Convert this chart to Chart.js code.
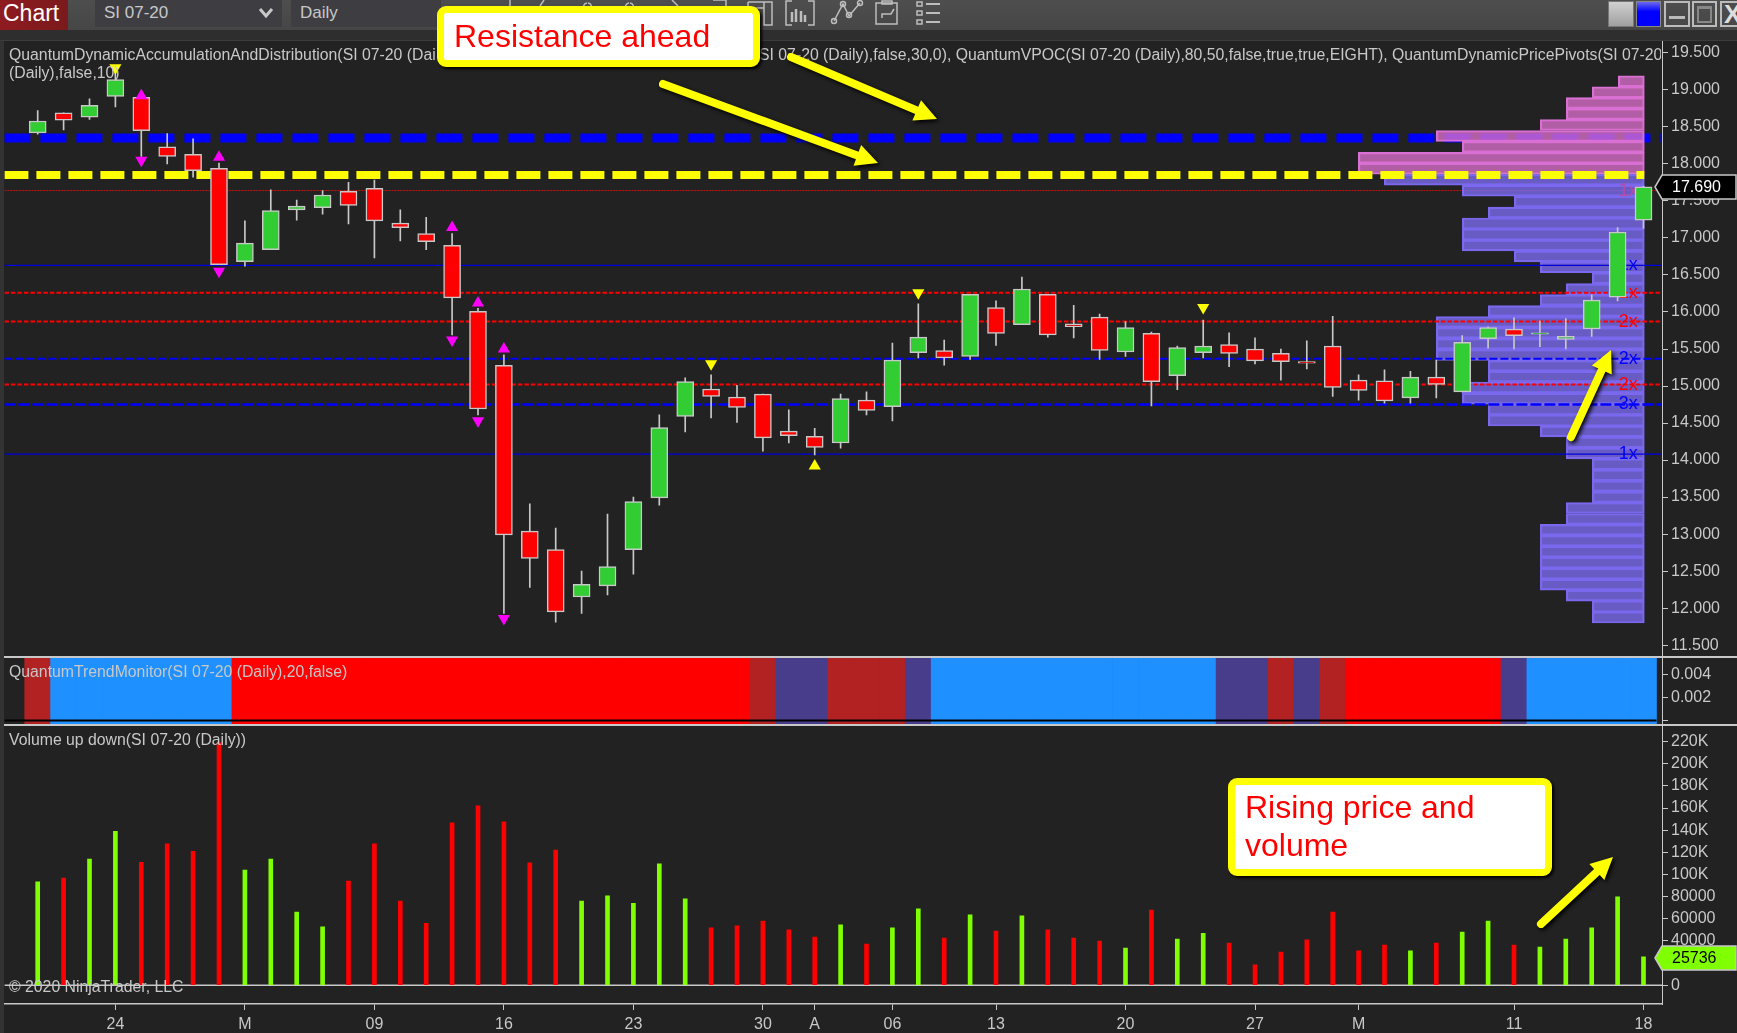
<!DOCTYPE html>
<html>
<head>
<meta charset="utf-8">
<title>SI 07-20 Daily</title>
<script src="https://cdn.jsdelivr.net/npm/chart.js@4/dist/chart.umd.min.js"></script>
<style>
    html, body { margin: 0; padding: 0; background: #222; }
    #page { position: relative; width: 1737px; height: 1033px; overflow: hidden; background: #222;
            font-family: "Liberation Sans", Arial, sans-serif; color: #c8c8c8; }
    canvas { position: absolute; left: 0; }
    .abs { position: absolute; white-space: nowrap; }
    .legend { font-size: 15.8px; line-height: 18px; color: #c8c8c8; }
    .callout { position: absolute; box-sizing: border-box; background: #fff; border: 7px solid #ff0; border-radius: 9px;
               color: #f00; font-size: 32px; box-shadow: 2px 2px 3px #000; }
    .tick { position: absolute; background: #c8c8c8; }
</style>
</head>
<body>
<div id="page">
    <!-- toolbar -->
    <div class="abs" style="left:0;top:0;width:1737px;height:30px;background:linear-gradient(#4e4e4e,#464646)"></div>
    <div class="abs" style="left:0;top:30px;width:1737px;height:11px;background:#2e2e2e;border-bottom:1px solid #3c3c3c;box-sizing:border-box"></div>
    <div class="abs" style="left:0;top:0;width:68px;height:30px;background:linear-gradient(90deg,#8f1b20,#7a1a1c);color:#fff;font-size:23px;line-height:26px;text-indent:3px">Chart</div>
    <div class="abs" style="left:95px;top:0;width:187px;height:27px;background:#3e3e42;font-size:17px;line-height:26px;text-indent:9px">SI 07-20</div>
    <svg class="abs" style="left:258px;top:7px" width="16" height="12"><path d="M2 2 L8 9 L14 2" fill="none" stroke="#c8c8c8" stroke-width="3"/></svg>
    <div class="abs" style="left:291px;top:0;width:150px;height:27px;background:#3e3e42;font-size:17px;line-height:26px;text-indent:9px">Daily</div>
    <svg class="abs" style="left:440px;top:0" width="520" height="30" fill="none" stroke="#bdbdbd" stroke-width="1.5">
        <path d="M70 0V6M104 0L100 6M148 3a4 4 0 1 1 -1 0M190 3a4 4 0 1 1 -1 0M232 0L238 6M273 0H286V6"/>
        <path d="M308 2H332V25H324V2M308 2V8H324"/>
        <path d="M352 1H346V25H352M368 1H374V25H368"/>
        <path d="M352 12V22M356 9V22M361 11V22M365 15V22" stroke-width="2.5"/>
        <path d="M394 21L403 4L409 16L420 3" />
        <circle cx="394" cy="21" r="2.5"/><circle cx="403" cy="4" r="2.5"/><circle cx="409" cy="15" r="2.5"/><circle cx="420" cy="3" r="2.5"/>
        <path d="M436 3H457V24H436ZM442 1H452V4H442ZM442 18V14H451L454 9"/>
        <rect x="477" y="2" width="5" height="4"/><rect x="477" y="11" width="5" height="4"/><rect x="477" y="20" width="5" height="4"/>
        <path d="M486 4H500M486 13H500M486 22H500" stroke-width="2"/>
    </svg>
    <!-- window buttons -->
    <div class="abs" style="left:1608px;top:1px;width:24px;height:24px;background:linear-gradient(#d0d0d0,#a0a0a0);border:1px solid #777"></div>
    <div class="abs" style="left:1636px;top:1px;width:23px;height:24px;background:linear-gradient(#6a6af0,#0000ff 40%);border:1px solid #888"></div>
    <div class="abs" style="left:1664px;top:1px;width:22px;height:22px;border:2px solid #bbb"><div style="position:absolute;left:3px;top:13px;width:16px;height:3px;background:#bbb"></div></div>
    <div class="abs" style="left:1692px;top:1px;width:21px;height:22px;border:2px solid #bbb"><div style="position:absolute;left:3px;top:3px;width:11px;height:12px;border:2px solid #888;border-top-width:3px"></div></div>
    <div class="abs" style="left:1720px;top:1px;width:17px;height:22px;border:2px solid #bbb;border-right:0;overflow:hidden;font-size:26px;line-height:22px;font-weight:bold;color:#ddd;text-indent:2px">X</div>
    <div class="abs" style="left:0;top:41px;width:4px;height:992px;background:#333"></div>

    <canvas id="priceBase" width="1737" height="616" style="top:41px"></canvas>
    <canvas id="priceProfile" width="1737" height="616" style="top:41px"></canvas>
    <canvas id="priceTop" width="1737" height="616" style="top:41px"></canvas>
    <canvas id="trendPanel" width="1737" height="68" style="top:657px"></canvas>
    <canvas id="volumePanel" width="1737" height="308" style="top:725px"></canvas>

    <!-- panel separators -->
    <div class="tick" style="left:4px;top:656px;width:1733px;height:2px"></div>
    <div class="tick" style="left:4px;top:724px;width:1733px;height:2px"></div>

    <!-- indicator legends -->
    <div class="abs legend" style="left:9px;top:46px;width:430px;overflow:hidden">QuantumDynamicAccumulationAndDistribution(SI 07-20 (Dai</div>
    <div class="abs legend" style="left:9px;top:64px">(Daily),false,10)</div>
    <div class="abs legend" style="left:759px;top:46px;width:902px;overflow:hidden">SI 07-20 (Daily),false,30,0), QuantumVPOC(SI 07-20 (Daily),80,50,false,true,true,EIGHT), QuantumDynamicPricePivots(SI 07-20 (Daily)</div>
    <div class="abs legend" style="left:9px;top:663px">QuantumTrendMonitor(SI 07-20 (Daily),20,false)</div>
    <div class="abs legend" style="left:9px;top:731px">Volume up down(SI 07-20 (Daily))</div>
    <div class="abs legend" style="left:9px;top:978px">© 2020 NinjaTrader, LLC</div>

    <!-- last value tags -->
    <svg class="abs" style="left:1654px;top:174px" width="83" height="26"><path d="M1 13L8 1H82V25H8Z" fill="#000" stroke="#c8c8c8" stroke-width="1.5"/></svg>
    <div class="abs" style="left:1672px;top:178px;font-size:16px;line-height:18px;color:#fff">17.690</div>
    <svg class="abs" style="left:1654px;top:945px" width="83" height="26"><path d="M1 13L8 1H82V25H8Z" fill="#7fff00" stroke="#c8c8c8" stroke-width="1.5"/></svg>
    <div class="abs" style="left:1672px;top:949px;font-size:16px;line-height:18px;color:#000">25736</div>

    <svg id="arrows" class="abs" style="left:0;top:0;filter:drop-shadow(2px 2px 2px #000)" width="1737" height="1033"></svg>

    <div class="callout" style="left:437px;top:6px;width:323px;height:61px;line-height:47px;padding-left:10px">Resistance ahead</div>
    <div class="callout" style="left:1228px;top:778px;width:324px;height:98px;line-height:37.5px;padding:4px 0 0 10px">Rising price and<br>volume</div>
</div>

<script>
// Daily bars, SI 07-20
const dates = ['02-19','02-20','02-21','02-24','02-25','02-26','02-27','02-28','03-02','03-03','03-04','03-05','03-06',
    '03-09','03-10','03-11','03-12','03-13','03-16','03-17','03-18','03-19','03-20','03-23','03-24','03-25','03-26','03-27',
    '03-30','03-31','04-01','04-02','04-03','04-06','04-07','04-08','04-09','04-13','04-14','04-15','04-16','04-17',
    '04-20','04-21','04-22','04-23','04-24','04-27','04-28','04-29','04-30','05-01','05-04','05-05','05-06','05-07','05-08',
    '05-11','05-12','05-13','05-14','05-15','05-18'];
const opens = [18.42,18.69,18.63,18.91,18.90,18.23,18.13,17.94,16.68,16.84,17.38,17.41,17.63,17.67,17.20,17.06,16.90,16.01,15.28,13.04,12.79,
    12.15,12.30,12.79,13.49,14.59,14.96,14.85,14.89,14.39,14.32,14.23,14.81,14.72,15.45,15.48,15.40,16.06,15.83,16.24,15.84,15.93,
    15.46,15.71,15.14,15.45,15.56,15.50,15.44,15.33,15.54,15.08,15.07,14.84,15.12,14.92,15.64,15.77,15.70,15.63,15.77,16.20,17.24];
const highs = [18.72,18.69,18.88,19.24,18.90,18.41,18.34,18.01,17.23,17.65,17.51,17.64,17.75,17.78,17.38,17.28,17.06,16.05,15.42,13.41,13.08,
    12.50,13.27,13.50,14.61,15.11,15.15,15.01,14.89,14.68,14.43,14.89,14.92,15.58,16.11,15.62,16.24,16.15,16.47,16.24,16.09,15.97,
    15.87,15.73,15.54,15.89,15.72,15.65,15.50,15.61,15.94,15.15,15.22,15.20,15.35,15.68,15.80,15.92,15.88,15.91,16.23,17.14,17.70];
const lows = [18.40,18.46,18.60,18.77,18.10,18.00,17.82,16.64,16.62,16.84,17.24,17.32,17.19,16.73,16.96,16.84,15.69,14.61,11.93,12.28,11.81,
    11.93,12.18,12.46,13.39,14.38,14.57,14.51,14.12,14.23,14.07,14.16,14.61,14.53,15.38,15.28,15.36,15.55,15.83,15.66,15.65,15.36,
    15.40,14.73,14.95,15.38,15.26,15.30,15.08,15.23,14.86,14.81,14.77,14.77,14.84,14.92,15.51,15.50,15.53,15.50,15.67,16.15,17.13];
const closes = [18.58,18.59,18.79,19.14,18.45,18.10,17.91,16.64,16.93,17.37,17.43,17.58,17.44,17.23,17.14,16.95,16.19,14.69,12.99,12.67,11.95,
    12.32,12.56,13.44,14.44,15.06,14.86,14.71,14.30,14.33,14.17,14.83,14.67,15.35,15.66,15.38,16.24,15.71,16.31,15.69,15.80,15.48,
    15.79,15.06,15.52,15.54,15.44,15.34,15.33,15.31,14.98,14.94,14.80,15.12,15.02,15.59,15.79,15.68,15.72,15.67,16.16,17.08,17.69];
const volumes = [93300,96900,114000,139000,111000,127600,121000,219000,104000,114000,66000,52700,94000,127600,76000,56000,146600,162000,147500,110500,122000,
    76000,80700,74000,109600,78000,51800,53600,58000,50000,43600,54500,37300,51800,69000,42700,63500,49000,62600,50000,42700,40000,
    33700,68000,41800,47000,38000,18400,30000,41000,66000,31000,36400,31000,38000,48000,58000,36400,34600,41800,51800,79800,25736];
// trend monitor: U up, D down, u weak up, d weak down
const trendStates = ['d','U','U','U','U','U','U','U','D','D','D','D','D','D','D','D','D','D','D','D','D','D','D','D','D','D','D','D',
    'd','u','u','d','d','d','u','U','U','U','U','U','U','U','U','U','U','U','u','u','d','u','d','D','D','D','D','D','D','u','U','U','U','U','U'];

// Volume profile, 50 bins top to bottom
const profilePrices = [19.116,18.968,18.821,18.673,18.525,18.377,18.229,18.082,17.934,17.786,17.638,17.49,17.343,17.195,17.047,16.899,16.751,16.604,16.456,16.308,
    16.16,16.012,15.865,15.717,15.569,15.421,15.273,15.126,14.978,14.83,14.682,14.534,14.387,14.239,14.091,13.943,13.795,13.648,13.5,13.352,
    13.204,13.056,12.909,12.761,12.613,12.465,12.317,12.17,12.022,11.874];
const profileCounts = [1,2,3,3,4,8,7,11,11,10,7,5,6,7,7,7,5,4,2,3,4,6,8,8,8,8,6,6,7,7,6,6,4,3,3,2,2,2,2,3,3,4,4,4,4,4,4,3,2,2];
const profileSplit = 17.9;   // bins above this are drawn pink

// Horizontal price levels
const resistanceBlue = 18.35;
const resistanceYellow = 17.85;
const thinRedLevel = 17.64;
const redLevels = [16.26, 15.87, 15.02];
const blueLevels = [15.37, 14.75];
const thinBlueLevels = [16.63, 14.08];

// Level labels on the profile
const levelLabels = ['1x','1x','1x','2x','2x','2x','3x','1x'];
const levelLabelPrices = [17.64,16.63,16.26,15.87,15.37,15.02,14.75,14.08];
const levelLabelColors = ['#b84aa8','#0000ff','#ff0000','#ff0000','#0000ff','#ff0000','#0000ff','#0000ff'];

// Pivot arrows, bar index and price
const pivotUpIdx = [4,7,16,17,18];
const pivotUpPrice = [18.92,18.09,17.14,16.12,15.50];
const pivotDownIdx = [4,7,16,17,18];
const pivotDownPrice = [18.05,16.55,15.62,14.53,11.86];
const signalDownIdx = [3,26,34,45];
const signalDownPrice = [19.30,15.30,16.26,16.06];
const signalUpIdx = [30];
const signalUpPrice = [13.92];

// Axis ticks
const priceTicks = [19.5,19,18.5,18,17.5,17,16.5,16,15.5,15,14.5,14,13.5,13,12.5,12,11.5];
const trendTicks = [0.004,0.002,0];
const volumeTicks = [0,20000,40000,60000,80000,100000,120000,140000,160000,180000,200000,220000];
const dateTickIdx = [3,8,13,18,23,28,30,33,37,42,47,51,57,62];
const dateTickLabels = ['24','M','09','16','23','30','A','06','13','20','27','M','11','18'];

// Ranges that line the panels up
const X_MIN = -1.2857, X_MAX = 62.714;
const PRICE_MIN = 11.34, PRICE_MAX = 19.66;

const UP_COLOR = '#32cd32', DOWN_COLOR = '#ff0000', WICK_COLOR = '#c8c8c8';
const AXIS_FONT = { family: '"Liberation Sans"', size: 16 };
const trendColors = { U: '#1e90ff', D: '#ff0000', u: '#483d8b', d: '#b22222' };

Chart.defaults.animation = false;
Chart.defaults.responsive = false;
Chart.defaults.devicePixelRatio = 1;
Chart.defaults.events = [];
Chart.defaults.plugins.legend.display = false;
Chart.defaults.plugins.tooltip.enabled = false;
Chart.defaults.layout.autoPadding = false;

// panels with a visible right axis don't pad right, the axis takes the 75px
const layerPadding = { left: 4.4, right: 75, top: 0, bottom: 0 };
const axisPadding = { left: 4.4, right: 0, top: 0, bottom: 0 };

function hiddenX() {
    return { type: 'linear', min: X_MIN, max: X_MAX, offset: false, display: false, grid: { display: false } };
}

function hiddenPriceY() {
    return { type: 'linear', min: PRICE_MIN, max: PRICE_MAX, display: false, grid: { display: false } };
}

// Right hand axis with a fixed width and listed ticks
function rightAxis(min, max, list, format) {
    return {
        type: 'linear', position: 'right', min: min, max: max,
        border: { color: '#c8c8c8', width: 1 },
        grid: { drawOnChartArea: false, drawTicks: true, tickLength: 6, color: '#c8c8c8' },
        ticks: { color: '#c8c8c8', font: AXIS_FONT, padding: 3, callback: format, autoSkip: false, maxRotation: 0 },
        afterBuildTicks: s => { s.ticks = list.map(v => ({ value: v })); },
        afterFit: s => { s.width = 75; s.paddingTop = 0; s.paddingBottom = 0; }
    };
}

function levelLine(price, color, width, dash, order) {
    return {
        type: 'line', data: [{ x: X_MIN, y: price }, { x: X_MAX, y: price }],
        borderColor: color, borderWidth: width, borderDash: dash, pointRadius: 0, order: order
    };
}

function markers(xs, ys, color, rotation) {
    return {
        type: 'line', showLine: false, data: xs.map((x, i) => ({ x: x, y: ys[i] })),
        pointStyle: 'triangle', pointRadius: 7, pointRotation: rotation,
        pointBackgroundColor: color, pointBorderWidth: 0, order: 0
    };
}

// Bottom layer: axis and the lines the profile fades
new Chart(document.getElementById('priceBase'), {
    type: 'line',
    data: { datasets: [
        levelLine(resistanceBlue, '#0000ff', 9, [26, 10], 1),
        levelLine(thinRedLevel, '#d01010', 1, [2, 1], 1)
    ] },
    options: {
        layout: { padding: axisPadding },
        scales: {
            x: hiddenX(),
            y: rightAxis(PRICE_MIN, PRICE_MAX, priceTicks, v => v.toFixed(3))
        }
    }
});

// Middle layer: volume profile and its level labels
new Chart(document.getElementById('priceProfile'), {
    type: 'bar',
    data: { datasets: [{
        data: profilePrices.map((p, i) => ({ y: p, x: profileCounts[i] })),
        barThickness: 11,
        borderWidth: 1.5,
        borderSkipped: false,
        backgroundColor: profilePrices.map(p => p > profileSplit ? 'rgba(215,110,201,0.8)' : 'rgba(122,107,237,0.8)'),
        borderColor: profilePrices.map(p => p > profileSplit ? '#da70d6' : '#7b68ee')
    }] },
    options: {
        indexAxis: 'y',
        layout: { padding: layerPadding },
        scales: {
            x: { type: 'linear', reverse: true, min: -0.68, max: 63.07, display: false, grid: { display: false } },
            y: Object.assign(hiddenPriceY(), { offset: false })
        }
    },
    plugins: [{
        id: 'levelLabels',
        afterDatasetsDraw(chart) {
            const ctx = chart.ctx;
            ctx.save();
            ctx.font = '18px "Liberation Sans"';
            ctx.textAlign = 'right';
            ctx.textBaseline = 'middle';
            levelLabels.forEach((t, i) => {
                ctx.fillStyle = levelLabelColors[i];
                ctx.fillText(t, chart.scales.x.getPixelForValue(0.25), chart.scales.y.getPixelForValue(levelLabelPrices[i]));
            });
            ctx.restore();
        }
    }]
});

// Top layer: yellow line, levels, candles, pivots
const levelSets = [
    // yellow stops at the profile's right edge
    Object.assign(levelLine(resistanceYellow, '#ffff00', 8, [24, 8], 5), { data: [{ x: X_MIN, y: resistanceYellow }, { x: 62.03, y: resistanceYellow }] }),
    ...redLevels.map(p => levelLine(p, '#ff0000', 2, [4.5, 2], 6)),
    levelLine(blueLevels[0], '#0000ff', 2, [8, 3], 6),
    levelLine(blueLevels[1], '#0000ff', 2.5, [11, 3], 6),
    ...thinBlueLevels.map(p => levelLine(p, '#0000dd', 1.2, [], 6))
];

new Chart(document.getElementById('priceTop'), {
    type: 'bar',
    data: { datasets: [
        {
            label: 'body',
            data: dates.map((d, i) => ({ x: i, y: [opens[i], closes[i]] })),
            grouped: false, barThickness: 17, borderWidth: 1.5, borderSkipped: false, borderColor: WICK_COLOR,
            backgroundColor: dates.map((d, i) => closes[i] >= opens[i] ? UP_COLOR : DOWN_COLOR),
            order: 2
        },
        {
            label: 'wick',
            data: dates.map((d, i) => ({ x: i, y: [lows[i], highs[i]] })),
            grouped: false, barThickness: 1, backgroundColor: WICK_COLOR,
            order: 3
        },
        markers(pivotUpIdx, pivotUpPrice, '#ff00ff', 0),
        markers(pivotDownIdx, pivotDownPrice, '#ff00ff', 180),
        markers(signalDownIdx, signalDownPrice, '#ffff00', 180),
        markers(signalUpIdx, signalUpPrice, '#ffff00', 0),
        ...levelSets
    ] },
    options: {
        layout: { padding: layerPadding },
        scales: { x: hiddenX(), y: hiddenPriceY() }
    }
});

// Trend monitor
new Chart(document.getElementById('trendPanel'), {
    type: 'bar',
    data: { datasets: [
        {
            data: dates.map((d, i) => ({ x: i, y: [-0.0004, 0.0055] })),
            grouped: false, barThickness: 26,
            backgroundColor: trendStates.map(s => trendColors[s]),
            order: 2
        },
        Object.assign(levelLine(0, '#000', 2, [], 1), { data: [{ x: X_MIN, y: 0 }, { x: 62.5, y: 0 }] })
    ] },
    options: {
        layout: { padding: axisPadding },
        scales: {
            x: hiddenX(),
            y: rightAxis(-0.0004, 0.0055, trendTicks, v => v === 0 ? '' : v.toFixed(3))
        }
    }
});

// Volume and the date axis
new Chart(document.getElementById('volumePanel'), {
    type: 'bar',
    data: { datasets: [
        {
            data: dates.map((d, i) => ({ x: i, y: volumes[i] })),
            grouped: false, barThickness: 4,
            backgroundColor: dates.map((d, i) => closes[i] >= opens[i] ? '#7fff00' : '#ff0000'),
            order: 1
        },
        levelLine(0, '#c8c8c8', 1.5, [], 2)
    ] },
    options: {
        layout: { padding: axisPadding },
        scales: {
            x: {
                type: 'linear', min: X_MIN, max: X_MAX, offset: false,
                border: { color: '#c8c8c8', width: 1.5 },
                grid: { drawOnChartArea: false, drawTicks: true, tickLength: 6, color: '#c8c8c8', offset: false },
                ticks: {
                    color: '#c8c8c8', font: AXIS_FONT, padding: 5, autoSkip: false, maxRotation: 0, minRotation: 0,
                    callback: v => dateTickLabels[dateTickIdx.indexOf(v)]
                },
                afterBuildTicks: s => { s.ticks = dateTickIdx.map(v => ({ value: v })); },
                afterFit: s => { s.height = 29; s.paddingLeft = 0; s.paddingRight = 0; }
            },
            y: rightAxis(-16900, 235000, volumeTicks, v => v >= 100000 ? (v / 1000) + 'K' : String(v))
        }
    }
});

// Yellow annotation arrows
const arrowLines = [[663, 84, 878, 163], [791, 57, 937, 119], [1571, 437, 1611, 350], [1541, 924, 1613, 857]];
const svg = document.getElementById('arrows');
arrowLines.forEach(a => {
    const ang = Math.atan2(a[3] - a[1], a[2] - a[0]);
    const bx = a[2] - Math.cos(ang) * 22, by = a[3] - Math.sin(ang) * 22;
    const nx = -Math.sin(ang) * 11, ny = Math.cos(ang) * 11;
    svg.innerHTML += '<line x1="' + a[0] + '" y1="' + a[1] + '" x2="' + bx + '" y2="' + by + '" stroke="#ff0" stroke-width="8" stroke-linecap="round"/>' +
        '<polygon fill="#ff0" points="' + a[2] + ',' + a[3] + ' ' + (bx + nx) + ',' + (by + ny) + ' ' + (bx - nx) + ',' + (by - ny) + '"/>';
});
</script>
</body>
</html>
